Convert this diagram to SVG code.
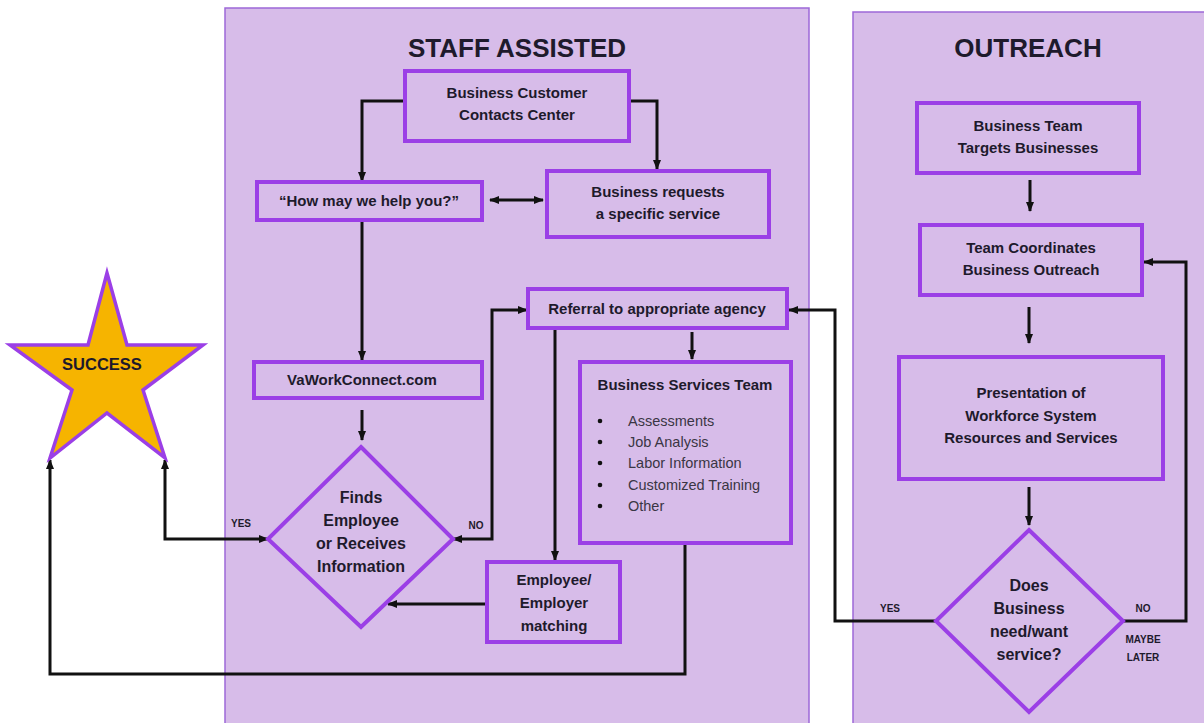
<svg xmlns="http://www.w3.org/2000/svg" width="1204" height="723" viewBox="0 0 1204 723">
<defs>
<marker id="arr" viewBox="0 0 10 10" refX="9" refY="5" markerWidth="10" markerHeight="10" markerUnits="userSpaceOnUse" orient="auto-start-reverse">
<path d="M0,1 L10,5 L0,9 z" fill="#111"/>
</marker>
<style>
.panel{fill:#d7bce9;stroke:#9d68d8;stroke-width:1.5}
.node{fill:#d7bce9;stroke:#9b3fe6;stroke-width:4}
.t{font-family:"Liberation Sans",Arial,sans-serif;font-weight:bold;fill:#1e1a2c;text-anchor:middle}
.title{font-size:26px}
.b{font-size:15px}
.d{font-size:16px}
.lbl{font-size:10px}
.item{font-family:"Liberation Sans",Arial,sans-serif;font-size:14.5px;fill:#3a3644}
.c{fill:none;stroke:#111;stroke-width:3}
.ce{marker-end:url(#arr)}
.cb{marker-start:url(#arr);marker-end:url(#arr)}
</style>
</defs>
<rect width="1204" height="723" fill="#fff"/>
<g id="panel-staff">
<rect class="panel" x="225" y="8" width="584" height="720"/>
<text class="t title" x="517" y="57">STAFF ASSISTED</text>
</g>
<g id="panel-outreach">
<rect class="panel" x="853" y="12" width="355" height="716"/>
<text class="t title" x="1028" y="57">OUTREACH</text>
</g>
<g id="connectors">
<path class="c ce" d="M405,101 H362 V181"/>
<path class="c ce" d="M629,101 H657 V169"/>
<path class="c cb" d="M490,200 H543"/>
<path class="c ce" d="M362,220 V360"/>
<path class="c ce" d="M362,410 V440"/>
<path class="c cb" d="M268,539 H165 V460"/>
<path class="c cb" d="M453,539 H492 V310 H527"/>
<path class="c ce" d="M555,328 V560"/>
<path class="c ce" d="M692,332 V359"/>
<path class="c ce" d="M487,604 H388"/>
<path class="c ce" d="M685,545 V674 H50 V460"/>
<path class="c ce" d="M936,621 H835 V310 H789"/>
<path class="c ce" d="M1030,180 V211"/>
<path class="c ce" d="M1029,307 V343"/>
<path class="c ce" d="M1029,487 V525"/>
<path class="c ce" d="M1123,621 H1186 V262 H1144"/>
</g>
<g id="success">
<polygon points="107,273 127,345 203,345 143,390 165,458 107,413 50,458 72,390 10,345 88,345" fill="#f6b400" stroke="#9b3fe6" stroke-width="3.5" stroke-linejoin="miter"/>
<text class="t" style="font-size:16.5px" x="102" y="370">SUCCESS</text>
</g>
<g id="bccc">
<rect class="node" x="405" y="71" width="224" height="70"/>
<text class="t b" x="517" y="98">Business Customer</text>
<text class="t b" x="517" y="120">Contacts Center</text>
</g>
<g id="how">
<rect class="node" x="257" y="182" width="225" height="38"/>
<text class="t b" x="369" y="206">“How may we help you?”</text>
</g>
<g id="requests">
<rect class="node" x="547" y="171" width="222" height="66"/>
<text class="t b" x="658" y="197">Business requests</text>
<text class="t b" x="658" y="219">a specific service</text>
</g>
<g id="vawork">
<rect class="node" x="254" y="362" width="228" height="36"/>
<text class="t b" x="362" y="385">VaWorkConnect.com</text>
</g>
<g id="finds">
<polygon class="node" points="361,447 453,539 361,627 268,539"/>
<text class="t d" x="361" y="503">Finds</text>
<text class="t d" x="361" y="526">Employee</text>
<text class="t d" x="361" y="549">or Receives</text>
<text class="t d" x="361" y="572">Information</text>
<text class="t lbl" x="241" y="527">YES</text>
<text class="t lbl" x="476" y="529">NO</text>
</g>
<g id="referral">
<rect class="node" x="528" y="289" width="259" height="39"/>
<text class="t b" x="657" y="314">Referral to appropriate agency</text>
</g>
<g id="bst">
<rect class="node" x="580" y="362" width="211" height="181"/>
<text class="t b" x="685" y="390">Business Services Team</text>
<g fill="#111"><circle cx="600" cy="421" r="2.3"/><circle cx="600" cy="442" r="2.3"/><circle cx="600" cy="463" r="2.3"/><circle cx="600" cy="485" r="2.3"/><circle cx="600" cy="506" r="2.3"/></g>
<text class="item" x="628" y="426">Assessments</text>
<text class="item" x="628" y="447">Job Analysis</text>
<text class="item" x="628" y="468">Labor Information</text>
<text class="item" x="628" y="490">Customized Training</text>
<text class="item" x="628" y="511">Other</text>
</g>
<g id="matching">
<rect class="node" x="487" y="562" width="133" height="80"/>
<text class="t b" x="554" y="585">Employee/</text>
<text class="t b" x="554" y="608">Employer</text>
<text class="t b" x="554" y="631">matching</text>
</g>
<g id="targets">
<rect class="node" x="917" y="103" width="222" height="70"/>
<text class="t b" x="1028" y="131">Business Team</text>
<text class="t b" x="1028" y="153">Targets Businesses</text>
</g>
<g id="coordinates">
<rect class="node" x="920" y="225" width="222" height="70"/>
<text class="t b" x="1031" y="253">Team Coordinates</text>
<text class="t b" x="1031" y="275">Business Outreach</text>
</g>
<g id="presentation">
<rect class="node" x="899" y="357" width="264" height="122"/>
<text class="t b" x="1031" y="398">Presentation of</text>
<text class="t b" x="1031" y="421">Workforce System</text>
<text class="t b" x="1031" y="443">Resources and Services</text>
</g>
<g id="does">
<polygon class="node" points="1029,530 1123,621 1029,712 936,621"/>
<text class="t d" x="1029" y="591">Does</text>
<text class="t d" x="1029" y="614">Business</text>
<text class="t d" x="1029" y="637">need/want</text>
<text class="t d" x="1029" y="660">service?</text>
<text class="t lbl" x="890" y="612">YES</text>
<text class="t lbl" x="1143" y="612">NO</text>
<text class="t lbl" x="1143" y="643">MAYBE</text>
<text class="t lbl" x="1143" y="661">LATER</text>
</g>
</svg>
